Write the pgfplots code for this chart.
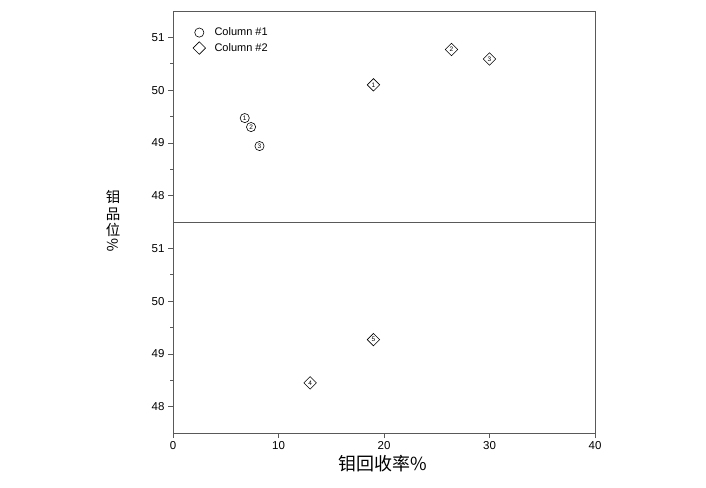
\documentclass[border=0pt]{standalone}
\usepackage{pgfplots}
\pgfplotsset{compat=1.18}
\usepackage{fontspec}
\setmainfont{Liberation Sans}
\newfontfamily\cjk{Noto Sans CJK SC}

\definecolor{axgray}{gray}{0.35}

\pgfplotsset{
  panel/.style={
    scale only axis,
    width=422pt, height=211pt,
    xmin=0, xmax=40,
    ymin=47.5, ymax=51.5,
    ytick={48,49,50,51},
    minor y tick num=1,
    tick align=outside,
    xtick pos=bottom, ytick pos=left,
    major tick length=5pt, minor tick length=3pt,
    axis line style={axgray, line width=0.8pt},
    every tick/.style={axgray, line width=0.7pt},
    tick label style={font=\fontsize{11.5}{12}\selectfont},
    /pgf/number format/assume math mode=true,
    clip=false,
  },
  circ/.style={only marks, mark=o, mark size=4.6pt,
    mark options={black, line width=0.6pt, fill=white}},
  diam/.style={only marks, mark=square, mark size=4.4pt,
    mark options={black, line width=0.6pt, fill=white, rotate=45}},
  num/.style={point meta=explicit symbolic, nodes near coords,
    every node near coord/.append style={anchor=center,
      font=\fontsize{6.5}{6}\selectfont, inner sep=0pt}},
}

\begin{document}
\begin{tikzpicture}
\useasboundingbox (0,0) rectangle (706pt,487pt);

% upper panel
\begin{axis}[panel, at={(173pt,265pt)}, anchor=south west,
  xtick=\empty,
  legend style={at={(0.04,0.94)}, anchor=north west, draw=none, fill=none,
    font=\fontsize{11}{13}\selectfont, row sep=2pt},
  legend cell align=left,
]
\addplot[circ, num] coordinates {
  (6.8, 49.47) [1]
  (7.4, 49.30) [2]
  (8.2, 48.94) [3]
};
\addlegendentry{\hspace{7pt}Column \#1}
\addplot[diam, num] coordinates {
  (19.0, 50.10) [1]
  (26.4, 50.77) [2]
  (30.0, 50.59) [3]
};
\addlegendentry{\hspace{7pt}Column \#2}
\end{axis}

% lower panel
\begin{axis}[panel, at={(173pt,54pt)}, anchor=south west,
  xtick={0,10,20,30,40},
]
\addplot[diam, num] coordinates {
  (13.0, 48.45) [4]
  (19.0, 49.27) [5]
};
\end{axis}

\node[font=\cjk\fontsize{18}{20}\selectfont, anchor=base] at (383pt,17pt) {钼回收率\%};
\begin{scope}[every node/.style={font=\cjk\fontsize{14.5}{16}\selectfont, inner sep=0pt}]
\node at (113pt,290pt) {钼};
\node at (113pt,273pt) {品};
\node at (113pt,257pt) {位};
\node[rotate=-90] at (113pt,242pt) {\%};
\end{scope}
\end{tikzpicture}
\end{document}
